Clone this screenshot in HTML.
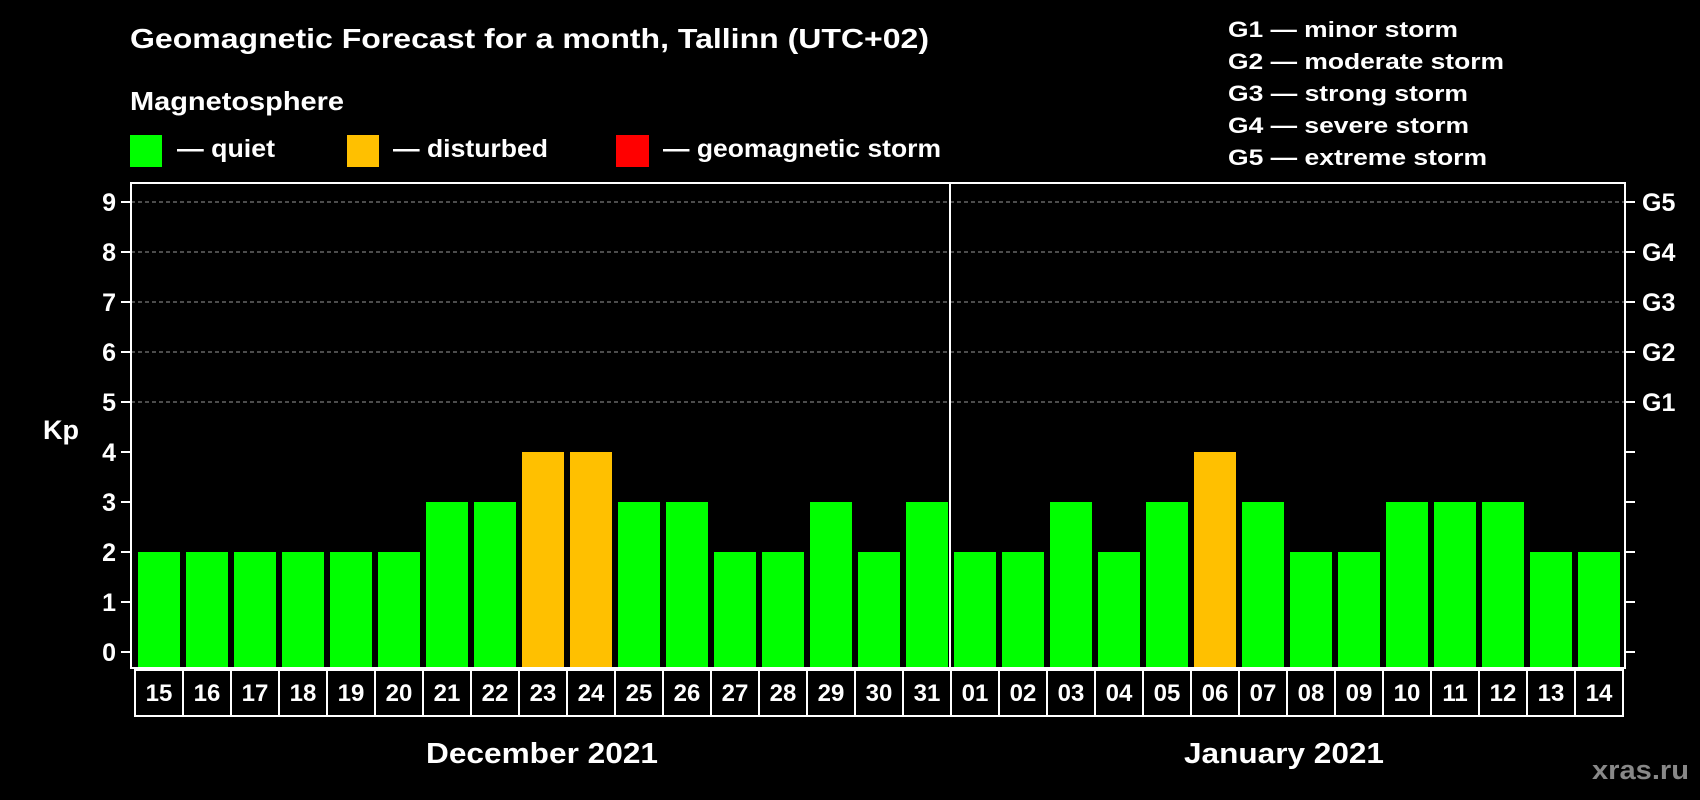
<!DOCTYPE html>
<html><head><meta charset="utf-8"><style>
html,body{margin:0;padding:0;background:#000;}
svg{display:block;font-family:"Liberation Sans",Arial,sans-serif;font-weight:bold;}
</style></head><body>
<svg id="chart" width="1700" height="800" viewBox="0 0 1700 800">
<rect x="0" y="0" width="1700" height="800" fill="#000"/>
<text x="130" y="48" fill="#fff" font-size="28" textLength="799" lengthAdjust="spacingAndGlyphs">Geomagnetic Forecast for a month, Tallinn (UTC+02)</text>
<text x="130" y="110" fill="#fff" font-size="26" textLength="214" lengthAdjust="spacingAndGlyphs">Magnetosphere</text>
<g><rect x="130" y="135" width="32" height="32" fill="#00ff00"/><text x="177" y="157" fill="#fff" font-size="25" textLength="98" lengthAdjust="spacingAndGlyphs">— quiet</text></g>
<g><rect x="347" y="135" width="32" height="32" fill="#ffc000"/><text x="393" y="157" fill="#fff" font-size="25" textLength="155" lengthAdjust="spacingAndGlyphs">— disturbed</text></g>
<g><rect x="616" y="135" width="33" height="32" fill="#ff0000"/><text x="663" y="157" fill="#fff" font-size="25" textLength="278" lengthAdjust="spacingAndGlyphs">— geomagnetic storm</text></g>
<g fill="#fff" font-size="22">
<text x="1228" y="37" textLength="230" lengthAdjust="spacingAndGlyphs">G1 — minor storm</text>
<text x="1228" y="69" textLength="276" lengthAdjust="spacingAndGlyphs">G2 — moderate storm</text>
<text x="1228" y="101" textLength="240" lengthAdjust="spacingAndGlyphs">G3 — strong storm</text>
<text x="1228" y="133" textLength="241" lengthAdjust="spacingAndGlyphs">G4 — severe storm</text>
<text x="1228" y="165" textLength="259" lengthAdjust="spacingAndGlyphs">G5 — extreme storm</text>
</g>
<text x="43" y="439" fill="#fff" font-size="27">Kp</text>
<g id="grid"></g><g id="bars"></g><g id="axes"></g>
<text x="542" y="763" fill="#fff" font-size="29" text-anchor="middle" textLength="232" lengthAdjust="spacingAndGlyphs">December 2021</text>
<text x="1284" y="763" fill="#fff" font-size="29" text-anchor="middle" textLength="200" lengthAdjust="spacingAndGlyphs">January 2021</text>
<text x="1689" y="779" fill="#888" font-size="27" text-anchor="end" textLength="97" lengthAdjust="spacingAndGlyphs">xras.ru</text>
</svg>
<script>
const days = ["15","16","17","18","19","20","21","22","23","24","25","26","27","28","29","30","31","01","02","03","04","05","06","07","08","09","10","11","12","13","14"];
const kpValues = [2,2,2,2,2,2,3,3,4,4,3,3,2,2,3,2,3,2,2,3,2,3,4,3,2,2,3,3,3,2,2];
const yTicks = [0,1,2,3,4,5,6,7,8,9];
const gLabels = ["G1","G2","G3","G4","G5"];
const gLevels = [5,6,7,8,9];
const decCount = 17;

const NS = "http://www.w3.org/2000/svg";
const L = 131, R = 1625, T = 183, B = 668;
const x0 = 135, step = 48, barW = 42;
function yScale(v){ return 652 - v*50; }
function xScale(i){ return x0 + i*step; }
function colorFor(v){ return v >= 5 ? "#ff0000" : (v >= 4 ? "#ffc000" : "#00ff00"); }
function mk(tag, attrs, parent){ const e = document.createElementNS(NS, tag); for (const k in attrs) e.setAttribute(k, attrs[k]); parent.appendChild(e); return e; }

const grid = document.getElementById("grid"), bars = document.getElementById("bars"), axes = document.getElementById("axes");
gLevels.forEach((lv) => {
  const ln = mk("line", {x1:L, x2:R, y1:yScale(lv), y2:yScale(lv), stroke:"#999", "stroke-width":1, "stroke-dasharray":"4,3"}, grid);
  
  
});
kpValues.forEach((v, i) => {
  const r = mk("rect", {x:xScale(i)+3, y:yScale(v), width:barW, height:B - yScale(v), fill:colorFor(v)}, bars);
  
  
});
const frame = mk("rect", {x:L, y:T, width:R-L, height:B-T, fill:"none", stroke:"#fff", "stroke-width":2}, axes);


const div = mk("line", {x1:xScale(decCount)-1, x2:xScale(decCount)-1, y1:T, y2:B, stroke:"#fff", "stroke-width":2}, axes);


yTicks.forEach((t) => {
  const y = yScale(t);
  mk("line", {x1:L-10, x2:L, y1:y, y2:y, stroke:"#fff", "stroke-width":2}, axes);
  mk("line", {x1:R, x2:R+10, y1:y, y2:y, stroke:"#fff", "stroke-width":2}, axes);
  const tx = mk("text", {x:116, y:y+9, fill:"#fff", "font-size":25, "text-anchor":"end"}, axes);
  tx.textContent = t;
  
  
});
gLabels.forEach((g, i) => {
  const tx = mk("text", {x:1642, y:yScale(gLevels[i])+9, fill:"#fff", "font-size":25}, axes);
  tx.textContent = g;
  
  
});
days.forEach((d, i) => {
  const b = mk("rect", {x:xScale(i), y:670, width:step, height:46, fill:"none", stroke:"#fff", "stroke-width":2}, axes);
  
  
  const tx = mk("text", {x:xScale(i)+step/2, y:701, fill:"#fff", "font-size":24, "text-anchor":"middle"}, axes);
  tx.textContent = d;
  
  
});
</script>
</body></html>
